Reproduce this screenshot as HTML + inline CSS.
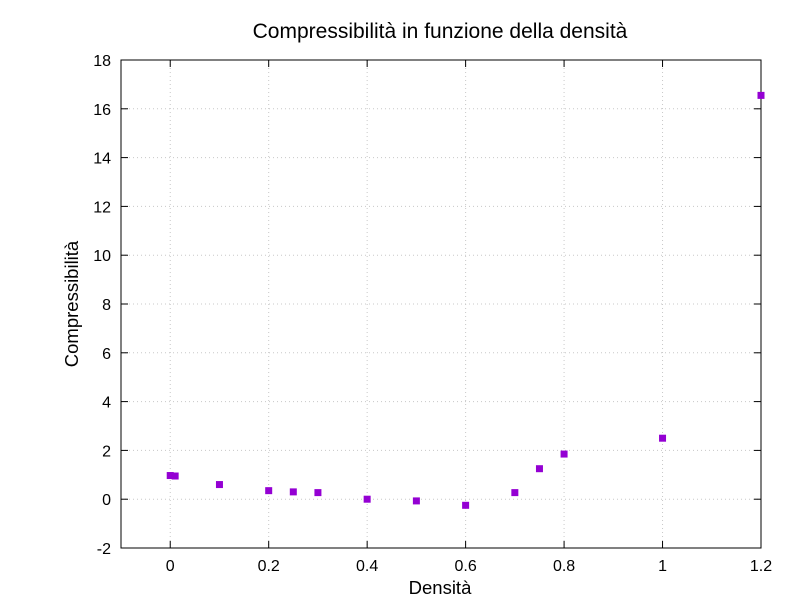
<!DOCTYPE html>
<html><head><meta charset="utf-8">
<style>
html,body{margin:0;padding:0;background:#fff;}
svg{display:block;font-family:"Liberation Sans",sans-serif;}
</style></head>
<body>
<svg id="chart" width="800" height="600">
<text x="440" y="38" font-size="21" text-anchor="middle">Compressibilità in funzione della densità</text>
<text x="440" y="594" font-size="18.5" text-anchor="middle">Densità</text>
<text transform="translate(78,304) rotate(-90)" font-size="18.5" text-anchor="middle">Compressibilità</text>
</svg>
<script>
const xValues=[0,0.01,0.1,0.2,0.25,0.3,0.4,0.5,0.6,0.7,0.75,0.8,1.0,1.2];
const yValues=[0.97,0.95,0.6,0.35,0.3,0.27,0,-0.07,-0.25,0.27,1.25,1.85,2.5,16.55];
const xTicks=[0,0.2,0.4,0.6,0.8,1,1.2];
const yTicks=[-2,0,2,4,6,8,10,12,14,16,18];
const L=121,R=761,T=60,B=548,xMin=-0.1,xMax=1.2,yMin=-2,yMax=18;
const sx=v=>L+(v-xMin)/(xMax-xMin)*(R-L);
const sy=v=>B-(v-yMin)/(yMax-yMin)*(B-T);
const svg=document.getElementById('chart');
const NS='http://www.w3.org/2000/svg';
function mk(tag,attrs){const e=document.createElementNS(NS,tag);for(const k in attrs)e.setAttribute(k,attrs[k]);svg.appendChild(e);return e;}
xTicks.forEach(v=>{
  const x=sx(v);
  const g=mk('line',{x1:x,x2:x,y1:T,y2:B,stroke:'#c8c8c8','stroke-dasharray':'1,3'});
  
  
  mk('line',{x1:x,x2:x,y1:B,y2:B-7,stroke:'#000'});
  mk('line',{x1:x,x2:x,y1:T,y2:T+7,stroke:'#000'});
  const t=mk('text',{x:x,y:B+23,'font-size':16,'text-anchor':'middle'});
  t.textContent=String(v);
  
  
});
yTicks.forEach(v=>{
  const y=sy(v);
  const g=mk('line',{x1:L,x2:R,y1:y,y2:y,stroke:'#c8c8c8','stroke-dasharray':'1,3'});
  
  
  mk('line',{x1:L,x2:L+7,y1:y,y2:y,stroke:'#000'});
  mk('line',{x1:R,x2:R-7,y1:y,y2:y,stroke:'#000'});
  const t=mk('text',{x:L-10,y:y+6,'font-size':16,'text-anchor':'end'});
  t.textContent=String(v);
  
  
});
const frame=mk('rect',{x:L,y:T,width:R-L,height:B-T,fill:'none',stroke:'#000'});


xValues.forEach((xv,i)=>{
  const p=mk('rect',{x:sx(xv)-3.5,y:sy(yValues[i])-3.5,width:7,height:7,fill:'#9400d3'});
  
  
});
</script>
</body></html>
